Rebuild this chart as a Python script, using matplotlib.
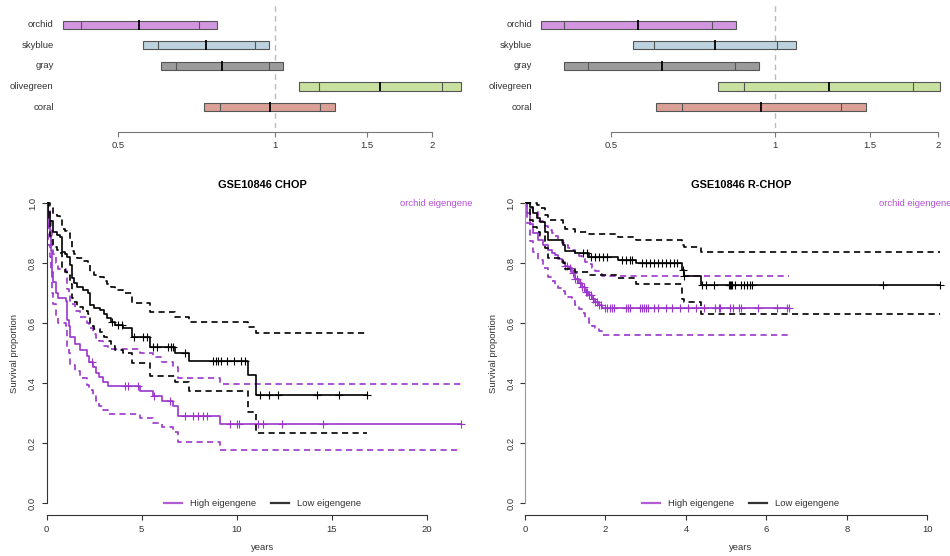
import numpy as np
import matplotlib
matplotlib.use("Agg")
import matplotlib.pyplot as plt

plt.rcParams['font.family'] = ['Liberation Sans', 'DejaVu Sans']

W, H = 950, 556  # figure size in pixels

# ---- top panels: hazard ratio intervals per module ----
modules = ['orchid', 'skyblue', 'gray', 'olivegreen', 'coral']
box_colors = ['#D296E1', '#BCD2DE', '#9B9B9B', '#C8E1A0', '#DBA096']

hr_chop = [0.550, 0.739, 0.792, 1.594, 0.979]
lo95_chop = [0.392, 0.558, 0.606, 1.115, 0.733]
hi95_chop = [0.774, 0.977, 1.036, 2.28, 1.307]
lo50_chop = [0.425, 0.596, 0.647, 1.214, 0.786]
hi50_chop = [0.715, 0.916, 0.974, 2.093, 1.222]

hr_rchop = [0.560, 0.776, 0.619, 1.259, 0.943]
lo95_rchop = [0.371, 0.549, 0.409, 0.787, 0.604]
hi95_rchop = [0.847, 1.096, 0.936, 2.017, 1.471]
lo50_rchop = [0.409, 0.598, 0.452, 0.879, 0.674]
hi50_rchop = [0.767, 1.008, 0.846, 1.801, 1.323]

hr_ticks = [0.5, 1, 1.5, 2]
hr_ticklabels = ['0.5', '1', '1.5', '2']

# ---- bottom panels: Kaplan-Meier curves (step times, survival after step) ----
# CHOP, low eigengene (black)
chop_low_t = [0, 0.08, 0.17, 0.35, 0.55, 0.7, 0.79, 0.95, 1.05, 1.23, 1.32, 1.45, 1.58, 1.9, 2.19,
              2.28, 2.5, 2.8, 3.0, 3.16, 3.4, 3.6, 4.03, 4.47, 5.44, 6.75, 7.5, 10.58, 11.0]
chop_low_s = [1.0, 0.97, 0.94, 0.905, 0.895, 0.889, 0.839, 0.83, 0.822, 0.794, 0.75, 0.735, 0.722, 0.71, 0.70,
              0.661, 0.652, 0.644, 0.63, 0.617, 0.605, 0.594, 0.583, 0.555, 0.52, 0.502, 0.476, 0.428, 0.361]
chop_low_up = [1.0, 1.0, 0.99, 0.965, 0.958, 0.95, 0.915, 0.907, 0.90, 0.878, 0.842, 0.83, 0.818, 0.808, 0.80,
               0.77, 0.762, 0.755, 0.742, 0.73, 0.72, 0.71, 0.70, 0.668, 0.639, 0.622, 0.605, 0.589, 0.567]
chop_low_lo = [1.0, 0.94, 0.89, 0.855, 0.845, 0.835, 0.78, 0.77, 0.76, 0.73, 0.685, 0.67, 0.655, 0.642, 0.63,
               0.59, 0.58, 0.57, 0.555, 0.54, 0.525, 0.512, 0.50, 0.467, 0.424, 0.405, 0.376, 0.305, 0.233]
chop_low_end = 16.84
chop_low_cens = [3.45, 3.75, 3.95, 4.6, 5.07, 5.28, 5.6, 5.8, 6.4, 6.55, 6.65, 7.3, 8.76, 8.9, 9.0, 9.15,
                 9.5, 9.85, 10.25, 10.45, 11.23, 11.7, 12.16, 14.24, 15.4, 16.84]

# CHOP, high eigengene (orchid)
chop_high_t = [0, 0.05, 0.09, 0.17, 0.22, 0.26, 0.3, 0.35, 0.5, 0.61, 1.0, 1.05, 1.15, 1.23, 1.5, 1.75,
               2.1, 2.25, 2.45, 2.6, 2.75, 2.98, 3.24, 4.91, 5.6, 6.05, 6.66, 6.93, 9.12]
chop_high_s = [1.0, 0.96, 0.922, 0.889, 0.84, 0.805, 0.77, 0.739, 0.70, 0.683, 0.674, 0.611, 0.59, 0.555, 0.53, 0.512,
               0.49, 0.472, 0.455, 0.433, 0.42, 0.405, 0.391, 0.374, 0.358, 0.342, 0.326, 0.291, 0.264]
chop_high_up = [1.0, 1.0, 0.975, 0.95, 0.91, 0.885, 0.855, 0.83, 0.80, 0.782, 0.775, 0.715, 0.695, 0.665, 0.64, 0.622,
                0.60, 0.583, 0.565, 0.55, 0.54, 0.525, 0.513, 0.502, 0.488, 0.472, 0.455, 0.417, 0.397]
chop_high_lo = [1.0, 0.90, 0.86, 0.82, 0.77, 0.735, 0.70, 0.665, 0.62, 0.60, 0.59, 0.52, 0.50, 0.462, 0.44, 0.418,
                0.395, 0.378, 0.36, 0.34, 0.325, 0.311, 0.298, 0.283, 0.268, 0.253, 0.238, 0.205, 0.178]
chop_high_end = 21.82
chop_high_cens = [2.4, 4.12, 4.29, 4.82, 5.65, 6.5, 7.28, 7.72, 7.98, 8.24, 8.42, 9.65, 10.0, 10.14,
                  11.14, 11.4, 12.37, 14.56, 21.82]

# R-CHOP, low eigengene (black)
rchop_low_t = [0, 0.12, 0.21, 0.3, 0.37, 0.5, 0.58, 0.95, 1.0, 1.24, 1.58, 2.3, 2.75, 3.9, 3.94, 4.37]
rchop_low_s = [1.0, 0.989, 0.967, 0.95, 0.939, 0.905, 0.878, 0.861, 0.842, 0.833, 0.822, 0.811, 0.80, 0.778, 0.758, 0.727]
rchop_low_up = [1.0, 1.0, 1.0, 0.995, 0.985, 0.961, 0.945, 0.933, 0.913, 0.905, 0.898, 0.889, 0.878, 0.86, 0.853, 0.839]
rchop_low_lo = [1.0, 0.944, 0.92, 0.905, 0.89, 0.85, 0.817, 0.80, 0.78, 0.772, 0.762, 0.75, 0.73, 0.68, 0.672, 0.631]
rchop_low_end = 10.31
rchop_low_cens = [1.45, 1.55, 1.65, 1.75, 1.85, 1.95, 2.05, 2.4, 2.5, 2.6, 2.65, 2.9, 3.0, 3.1, 3.2, 3.3,
                  3.4, 3.5, 3.6, 3.7, 3.78, 3.92, 3.96, 4.4, 4.5, 4.7, 5.06, 5.1, 5.13, 5.15, 5.22, 5.37,
                  5.44, 5.52, 5.6, 5.65, 8.9, 10.31]

# R-CHOP, high eigengene (orchid)
rchop_high_t = [0, 0.04, 0.12, 0.21, 0.33, 0.45, 0.58, 0.66, 0.75, 0.83, 0.91, 1.0, 1.08, 1.16, 1.24,
                1.33, 1.41, 1.5, 1.58, 1.66, 1.74, 1.83, 1.91]
rchop_high_s = [1.0, 0.967, 0.93, 0.90, 0.878, 0.86, 0.845, 0.836, 0.828, 0.815, 0.803, 0.792, 0.783, 0.767, 0.748,
                0.735, 0.72, 0.706, 0.694, 0.682, 0.672, 0.662, 0.652]
rchop_high_up = [1.0, 1.0, 0.985, 0.97, 0.942, 0.925, 0.91, 0.90, 0.89, 0.878, 0.868, 0.86, 0.852, 0.843, 0.833,
                 0.824, 0.815, 0.806, 0.797, 0.786, 0.776, 0.766, 0.758]
rchop_high_lo = [1.0, 0.933, 0.875, 0.839, 0.811, 0.785, 0.755, 0.742, 0.728, 0.718, 0.708, 0.698, 0.689, 0.675, 0.661,
                 0.647, 0.633, 0.617, 0.60, 0.591, 0.583, 0.573, 0.561]
rchop_high_end = 6.57
rchop_high_cens = [1.0, 1.05, 1.12, 1.2, 1.25, 1.3, 1.37, 1.42, 1.47, 1.52, 1.55, 1.6, 1.65, 1.7, 1.75, 1.8,
                   1.85, 1.9, 2.0, 2.05, 2.1, 2.15, 2.2, 2.5, 2.55, 2.6, 2.85, 2.9, 2.95, 3.0, 3.05, 3.2,
                   3.3, 3.5, 3.65, 3.85, 4.05, 4.25, 4.45, 4.73, 4.81, 4.85, 5.1, 5.18, 5.33, 5.37, 5.8,
                   6.26, 6.51, 6.57]

ORCHID = '#9B35CB'
TXT = '#333333'
FS = 6.8


def px_rect(x0, y0, x1, y1):  # pixel box -> figure fraction rect
    return [x0 / W, 1 - y1 / H, (x1 - x0) / W, (y1 - y0) / H]


def hr_panel(rect, xlim, hr, lo95, hi95, lo50, hi50):
    ax = fig.add_axes(rect)
    ax.set_xscale('log')
    ax.set_xlim(xlim)
    ax.set_ylim(0, 6)
    ys = np.arange(len(modules), 0, -1)
    ax.axvline(1, color='#BBBBBB', lw=1.0, ls=(0, (4, 3)), zorder=0)
    lo95 = np.array(lo95)
    hi95 = np.array(hi95)
    ax.barh(ys, hi95 - lo95, left=lo95, height=0.39, color=box_colors, edgecolor='#555555', lw=0.8, zorder=2)
    ax.vlines(lo50, ys - 0.195, ys + 0.195, color='#555555', lw=0.8, zorder=3)
    ax.vlines(hi50, ys - 0.195, ys + 0.195, color='#555555', lw=0.8, zorder=3)
    ax.vlines(hr, ys - 0.24, ys + 0.24, color='black', lw=1.3, zorder=4)
    for y, name in zip(ys, modules):
        ax.text(0.0165, y, name, transform=ax.get_yaxis_transform(), ha='right', va='center',
                fontsize=FS, color=TXT)
    for s in ['top', 'right', 'left']:
        ax.spines[s].set_visible(False)
    ax.spines['bottom'].set_position(('outward', 3.3))
    ax.spines['bottom'].set_bounds(0.5, 2)
    ax.spines['bottom'].set_color('#777777')
    ax.set_yticks([])
    ax.set_xticks(hr_ticks)
    ax.set_xticklabels(hr_ticklabels)
    ax.xaxis.set_minor_locator(matplotlib.ticker.NullLocator())
    ax.tick_params(axis='x', length=3.6, color='#777777', labelcolor=TXT, labelsize=FS, pad=3)
    return ax


def km_curve(ax, t, s, up, lo, end, cens, color):
    tt = list(t) + [end]
    ax.step(tt, list(s) + [s[-1]], where='post', color=color, lw=1.2)
    ax.step(tt, list(up) + [up[-1]], where='post', color=color, lw=1.2, ls=(0, (3.7, 2.6)))
    ax.step(tt, list(lo) + [lo[-1]], where='post', color=color, lw=1.2, ls=(0, (3.7, 2.6)))
    idx = np.searchsorted(t, cens, side='right') - 1
    ax.plot(cens, np.array(s)[idx], ls='none', marker='+', ms=6, mew=0.8, color=color)


def km_panel(rect, xmax, xticks, left_color):
    ax = fig.add_axes(rect)
    ax.set_xlim(0, xmax)
    ax.set_ylim(-0.04, 1.04)
    for sp in ['top', 'right']:
        ax.spines[sp].set_visible(False)
    ax.spines['left'].set_bounds(0, 1)
    ax.spines['left'].set_color(left_color)
    ax.spines['bottom'].set_bounds(xticks[0], xticks[-1])
    ax.spines['bottom'].set_color('#333333')
    ax.set_yticks([0, 0.2, 0.4, 0.6, 0.8, 1.0])
    ax.set_yticklabels(['0.0', '0.2', '0.4', '0.6', '0.8', '1.0'], rotation=90, va='center')
    ax.set_xticks(xticks)
    ax.tick_params(length=3.6, color='#333333', labelcolor=TXT, labelsize=FS, pad=3.5)
    ax.text(0.988, 1.0, 'orchid eigengene', transform=ax.get_yaxis_transform(), ha='right', va='center',
            fontsize=FS, color='#B452D4')
    return ax


fig = plt.figure(figsize=(W / 100, H / 100), dpi=100)

hr_panel(px_rect(46.6, 4.1, 477.4, 127.7), (0.3652, 2.4473),
         hr_chop, lo95_chop, hi95_chop, lo50_chop, hi50_chop)
hr_panel(px_rect(525, 4.1, 956, 127.7), (0.3464, 2.159),
         hr_rchop, lo95_rchop, hi95_rchop, lo50_rchop, hi50_rchop)

ax1 = km_panel(px_rect(46.7, 191.3, 477.9, 515.3), 22.69, [0, 5, 10, 15, 20], '#333333')
km_curve(ax1, chop_high_t, chop_high_s, chop_high_up, chop_high_lo, chop_high_end, chop_high_cens, ORCHID)
km_curve(ax1, chop_low_t, chop_low_s, chop_low_up, chop_low_lo, chop_low_end, chop_low_cens, 'black')

ax2 = km_panel(px_rect(525, 191.3, 956.4, 515.3), 10.72, [0, 2, 4, 6, 8, 10], '#999999')
km_curve(ax2, rchop_high_t, rchop_high_s, rchop_high_up, rchop_high_lo, rchop_high_end, rchop_high_cens, ORCHID)
km_curve(ax2, rchop_low_t, rchop_low_s, rchop_low_up, rchop_low_lo, rchop_low_end, rchop_low_cens, 'black')

for ax, title, cx, lx in [(ax1, 'GSE10846 CHOP', 262.3, 15), (ax2, 'GSE10846 R-CHOP', 740.7, 493.3)]:
    fig.text(cx / W, 1 - 185 / H, title, ha='center', va='center', fontsize=7.9, fontweight='bold')
    fig.text(cx / W, 1 - 547.7 / H, 'years', ha='center', va='center', fontsize=FS, color=TXT)
    fig.text(lx / W, 1 - 353.3 / H, 'Survival proportion', ha='center', va='center', rotation=90,
             fontsize=FS, color=TXT)
    h1, = ax.plot([], [], color='#B45CD3', lw=1.6)
    h2, = ax.plot([], [], color='#333333', lw=1.6)
    ax.legend([h1, h2], ['High eigengene', 'Low eigengene'], loc='center', bbox_to_anchor=(0.5, 0.035),
              ncol=2, frameon=False, fontsize=FS, labelcolor=TXT, handlelength=1.9,
              handletextpad=0.85, columnspacing=1.6, borderpad=0)

fig.savefig('out.png', dpi=100)
